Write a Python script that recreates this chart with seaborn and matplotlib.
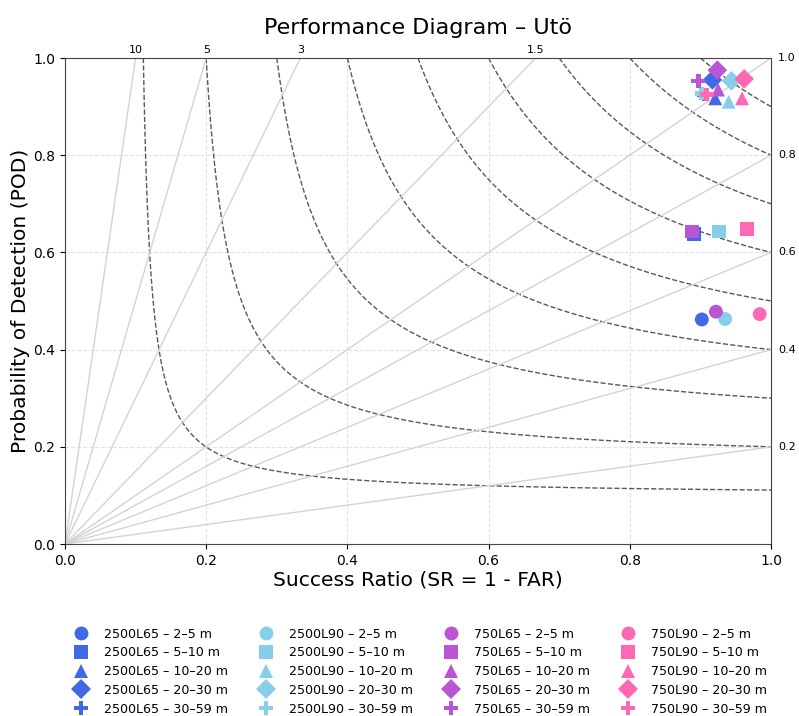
import numpy as np
import pandas as pd
import matplotlib
matplotlib.use("Agg")
import matplotlib.pyplot as plt
import seaborn as sns

# ---- data ----
groups = ["2500L65", "2500L90", "750L65", "750L90"]
ranges = ["2–5 m", "5–10 m", "10–20 m", "20–30 m", "30–59 m"]
sr_2500L65 = [0.902, 0.891, 0.921, 0.917, 0.905]
pod_2500L65 = [0.462, 0.638, 0.917, 0.955, 0.925]
sr_2500L90 = [0.935, 0.926, 0.940, 0.944, 0.902]
pod_2500L90 = [0.463, 0.643, 0.910, 0.953, 0.927]
sr_750L65 = [0.922, 0.888, 0.925, 0.924, 0.897]
pod_750L65 = [0.478, 0.643, 0.935, 0.975, 0.953]
sr_750L90 = [0.984, 0.966, 0.959, 0.962, 0.909]
pod_750L90 = [0.473, 0.648, 0.917, 0.957, 0.925]
group_colors = ["#4169E1", "#87CEEB", "#BA55D3", "#FF69B4"]
range_markers = ["o", "s", "^", "D", "P"]
bias_levels = [0.2, 0.4, 0.6, 0.8, 1.0, 1.5, 3, 5, 10]
bias_top_labels = [10, 5, 3, 1.5]
csi_levels = [0.111, 0.2, 0.3, 0.4, 0.5, 0.6, 0.7, 0.8, 0.9]
x_ticks = [0.0, 0.2, 0.4, 0.6, 0.8, 1.0]

sr_all = [sr_2500L65, sr_2500L90, sr_750L65, sr_750L90]
pod_all = [pod_2500L65, pod_2500L90, pod_750L65, pod_750L90]

rows = []
palette = {}
markers = {}
for g, c, srs, pods in zip(groups, group_colors, sr_all, pod_all):
    for r, m, s, p in zip(ranges, range_markers, srs, pods):
        lab = f"{g} – {r}"
        rows.append({"SR": s, "POD": p, "label": lab})
        palette[lab] = c
        markers[lab] = m
df = pd.DataFrame(rows)
order = list(df["label"])

plt.rcParams["font.family"] = ["DejaVu Sans"]

fig = plt.figure(figsize=(7.99, 7.16), dpi=100)
ax = fig.add_axes([65 / 799, 1 - 544 / 716, 706 / 799, 486 / 716])

# CSI contours
g = np.linspace(0.005, 1, 400)
SRg, PODg = np.meshgrid(g, g)
CSI = 1.0 / (1.0 / SRg + 1.0 / PODg - 1.0)
ax.contour(SRg, PODg, CSI, levels=csi_levels, colors="0.35",
           linestyles="--", linewidths=1.0, zorder=1)

# Frequency bias lines
xx = np.array([0.0, 1.0])
for b in bias_levels:
    ax.plot(xx, b * xx, color="#d3d3d3", lw=1.0, zorder=1)
    if b in bias_top_labels:
        ax.text(1.0 / b, 1.006, f"{b:g}", ha="center", va="bottom", fontsize=8)
    else:
        ax.text(1.01, b, f"{b:.1f}", ha="left", va="center", fontsize=8)

sns.scatterplot(data=df, x="SR", y="POD", hue="label", style="label",
                hue_order=order, style_order=order, palette=palette,
                markers=markers, s=100, ax=ax, zorder=3, linewidth=0)

ax.set_xlim(0, 1)
ax.set_ylim(0, 1)
ax.set_xticks(x_ticks)
ax.set_yticks(x_ticks)
ax.tick_params(labelsize=10)
ax.grid(True, ls="--", color="#e3e3e3", lw=0.8)
ax.set_axisbelow(True)
for sp in ax.spines.values():
    sp.set_color("#444444")
ax.set_xlabel("Success Ratio (SR = 1 - FAR)", fontsize=14.6, labelpad=2)
ax.set_ylabel("Probability of Detection (POD)", fontsize=14.6, labelpad=2)
ax.set_title("Performance Diagram – Utö", fontsize=16, pad=17)

handles, labels = ax.get_legend_handles_labels()
ax.legend(handles, labels, ncol=4, loc="upper center",
          bbox_to_anchor=(0.5, -0.162), frameon=False, fontsize=9.1,
          markerscale=1.0, labelspacing=0.45, columnspacing=2.0,
          handletextpad=0.82, handlelength=2.0, borderaxespad=0)

fig.savefig("out.png", dpi=100)
